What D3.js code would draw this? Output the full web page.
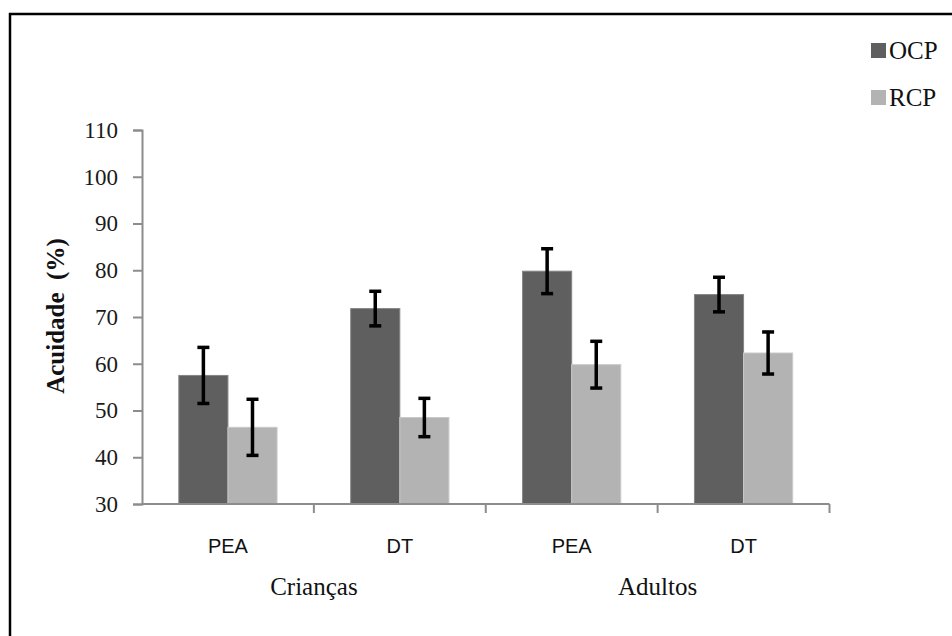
<!DOCTYPE html>
<html>
<head>
<meta charset="utf-8">
<script src="https://cdn.jsdelivr.net/npm/d3@7"></script>
<style>
html,body{margin:0;padding:0;background:#fff;}
svg{display:block;}
</style>
</head>
<body>
<svg id="chart" width="952" height="636"></svg>
<script>
// ---- data ----
const categories = ["PEA", "DT", "PEA", "DT"];
const groups = ["Crianças", "Adultos"];
const series = ["OCP", "RCP"];
const ocpValues = [57.5, 71.8, 79.8, 74.8];
const ocpErrors = [6.0, 3.7, 4.8, 3.7];
const rcpValues = [46.4, 48.5, 59.8, 62.3];
const rcpErrors = [6.0, 4.1, 5.0, 4.5];
const yTicks = [30, 40, 50, 60, 70, 80, 90, 100, 110];
const yTitle = "Acuidade  (%)";

(function () {
const colors = {OCP: "#5f5f5f", RCP: "#b3b3b3"};
const strokes = {OCP: "#858585", RCP: "#c9c9c9"};

const svg = d3.select("#chart");

// frame
svg.append("rect").attr("x", 10).attr("y", 14).attr("width", 1000).attr("height", 700)
  .attr("fill", "none").attr("stroke", "#000").attr("stroke-width", 2.5);

const mLeft = 142, mRight = 829.5, mTop = 130, mBottom = 504;

const x0 = d3.scaleBand().domain(d3.range(categories.length)).range([mLeft, mRight]).padding(0);
const x1 = d3.scaleBand().domain(series).range([0, x0.bandwidth()]).paddingInner(0).paddingOuter(0.75);
const y = d3.scaleLinear().domain([30, 110]).range([mBottom, mTop]);

const rows = categories.map((c, i) => ({
  i,
  vals: [
    {s: "OCP", v: ocpValues[i], e: ocpErrors[i]},
    {s: "RCP", v: rcpValues[i], e: rcpErrors[i]}
  ]
}));

// bars
const g = svg.append("g");
const grp = g.selectAll("g.grp").data(rows).join("g")
  .attr("transform", d => `translate(${x0(d.i)},0)`);
grp.selectAll("rect").data(d => d.vals).join("rect")
  .attr("x", d => x1(d.s))
  .attr("y", d => y(d.v))
  .attr("width", x1.bandwidth())
  .attr("height", d => y(30) - y(d.v))
  .attr("fill", d => colors[d.s])
  .attr("stroke", d => strokes[d.s])
  .attr("stroke-width", 1);

// error bars
const eb = grp.selectAll("g.eb").data(d => d.vals).join("g").attr("class", "eb")
  .attr("stroke", "#000").attr("stroke-width", 3.5);
const cx = d => x1(d.s) + x1.bandwidth() / 2;
eb.append("line")
  .attr("x1", cx).attr("x2", cx)
  .attr("y1", d => y(d.v + d.e)).attr("y2", d => y(d.v - d.e));
eb.append("line")
  .attr("x1", d => cx(d) - 6).attr("x2", d => cx(d) + 6)
  .attr("y1", d => y(d.v + d.e)).attr("y2", d => y(d.v + d.e));
eb.append("line")
  .attr("x1", d => cx(d) - 6).attr("x2", d => cx(d) + 6)
  .attr("y1", d => y(d.v - d.e)).attr("y2", d => y(d.v - d.e));

// y axis
const yAxis = d3.axisLeft(y).tickValues(yTicks).tickSize(9).tickPadding(15).tickFormat(d3.format("d"));
const ya = svg.append("g").attr("transform", `translate(${mLeft},0)`).call(yAxis);
ya.select(".domain").attr("stroke", "#8c8c8c").attr("stroke-width", 2);
ya.selectAll(".tick line").attr("stroke", "#8c8c8c").attr("stroke-width", 2);
ya.selectAll(".tick text").attr("font-family", "'Liberation Serif', serif").attr("font-size", 23).attr("fill", "#1a1a1a");

// x axis (ticks at band boundaries)
const xa = svg.append("g").attr("transform", `translate(0,${mBottom})`);
xa.append("line").attr("x1", mLeft).attr("x2", mRight).attr("y1", 0).attr("y2", 0)
  .attr("stroke", "#8c8c8c").attr("stroke-width", 2);
const boundaries = d3.range(1, categories.length + 1).map(i => mLeft + i * x0.step());
xa.selectAll("line.tk").data(boundaries).join("line").attr("class", "tk")
  .attr("x1", d => d).attr("x2", d => d).attr("y1", 0).attr("y2", 9)
  .attr("stroke", "#8c8c8c").attr("stroke-width", 2);

// category labels
svg.append("g").selectAll("text").data(rows).join("text")
  .attr("x", d => x0(d.i) + x0.bandwidth() / 2)
  .attr("y", 553)
  .attr("text-anchor", "middle")
  .attr("font-family", "'Liberation Sans', Arial, sans-serif")
  .attr("font-size", 20)
  .attr("fill", "#111")
  .text(d => categories[d.i]);

// group labels
svg.append("g").selectAll("text").data(groups).join("text")
  .attr("x", (d, i) => x0(i * 2) + x0.step())
  .attr("y", 595)
  .attr("text-anchor", "middle")
  .attr("font-family", "'Liberation Serif', serif")
  .attr("font-size", 25)
  .attr("fill", "#111")
  .text(d => d);

// y title
svg.append("text")
  .attr("transform", "translate(64,316) rotate(-90)")
  .attr("text-anchor", "middle")
  .attr("font-family", "'Liberation Serif', serif")
  .attr("font-weight", "bold")
  .attr("font-size", 25)
  .attr("fill", "#111")
  .style("white-space", "pre")
  .text(yTitle);

// legend
const lg = svg.append("g").selectAll("g").data(series).join("g")
  .attr("transform", (d, i) => `translate(871,${43 + i * 47})`);
lg.append("rect").attr("width", 15).attr("height", 15).attr("fill", d => colors[d]);
lg.append("text").attr("x", 18).attr("y", 16)
  .attr("font-family", "'Liberation Serif', serif").attr("font-size", 25).attr("fill", "#111")
  .text(d => d);
})();
</script>
</body>
</html>
